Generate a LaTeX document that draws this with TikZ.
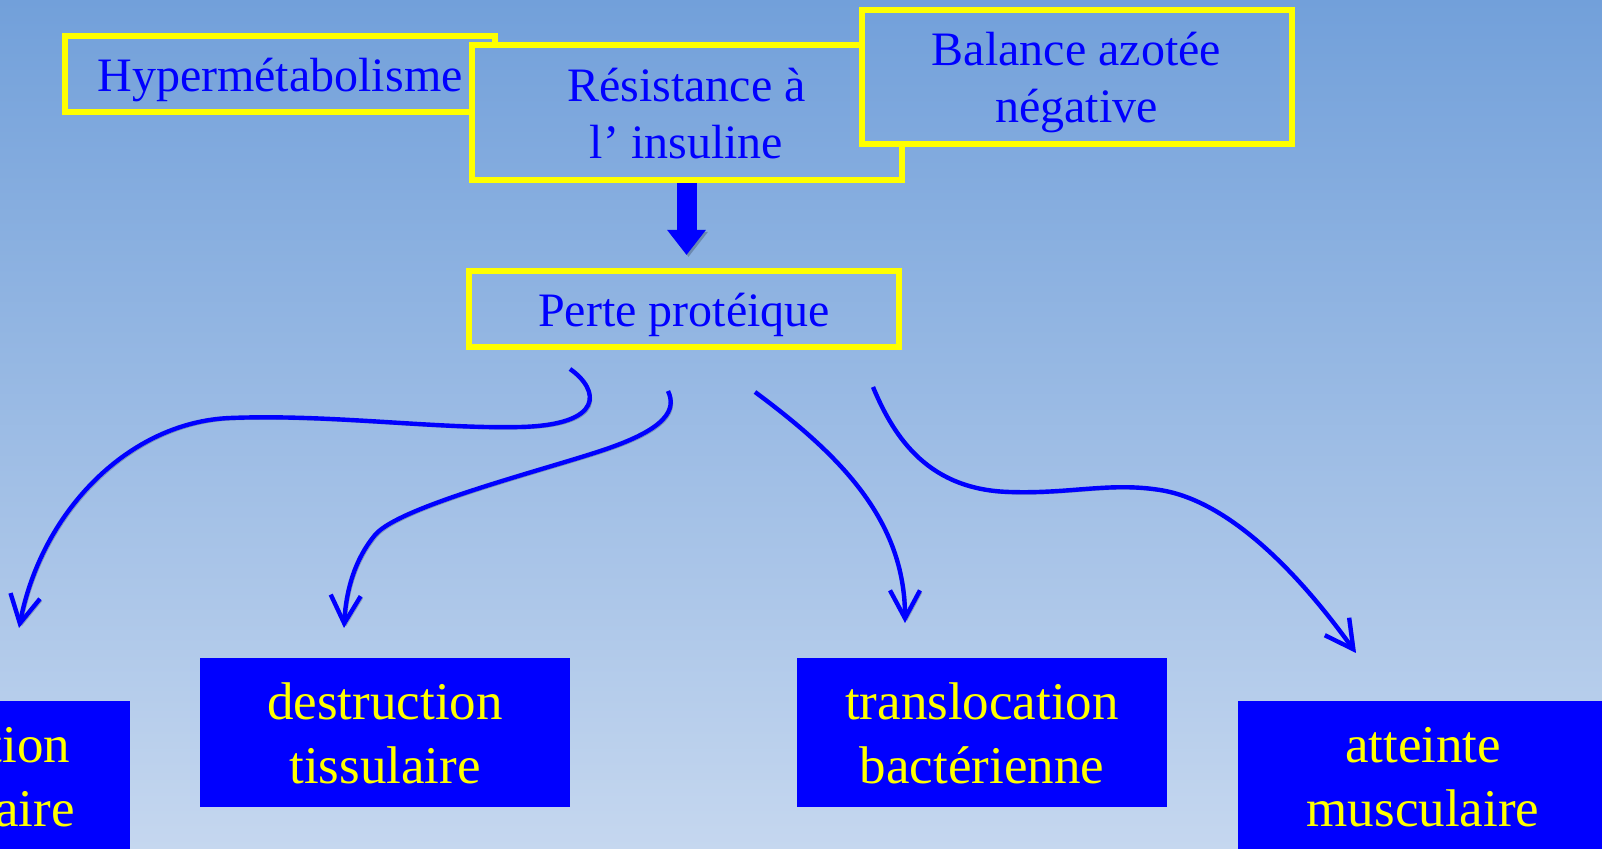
\documentclass[tikz,border=0pt]{standalone}
\usepackage{fontspec}
\setmainfont{Liberation Serif}
\usetikzlibrary{arrows.meta}
\definecolor{bgtop}{RGB}{114,160,218}
\definecolor{bgbot}{RGB}{197,215,239}
\definecolor{pureblue}{RGB}{0,0,255}
\definecolor{pureyellow}{RGB}{255,255,0}
% centred lines of text, lowered by #1 without changing the box size
\newcommand{\boxlines}[2]{\raisebox{-#1}[\height][\depth]{\begin{tabular}{@{}c@{}}#2\end{tabular}}}

\begin{document}
\begin{tikzpicture}[x=0.5pt,y=-0.5pt,
  pagefill/.style={path picture={\shade[top color=bgtop,bottom color=bgbot] (pgtl) rectangle (pgbr);}},
  topbox/.style={draw=pureyellow, line width=3pt, text=pureblue,
    font=\fontsize{24}{28.5}\selectfont, inner sep=0pt,
    minimum width=215pt},
  lowbox/.style={fill=pureblue, text=pureyellow,
    font=\fontsize{26.5}{32}\selectfont, inner sep=0pt,
    minimum width=185pt, minimum height=74.5pt},
  shadowed/.style={preaction={draw=black, opacity=0.22,
    transform canvas={xshift=1pt,yshift=-1pt}}},
  link/.style={draw=pureblue, line width=2.2pt,
    -{Straight Barb[length=14pt,width=15pt]}, shadowed},
]
% page and its gradient
\coordinate (pgtl) at (0,0);
\coordinate (pgbr) at (1602,849);
\useasboundingbox (pgtl) rectangle (pgbr);
\shade[top color=bgtop,bottom color=bgbot] (pgtl) rectangle (pgbr);

% upper boxes (later ones cover earlier ones)
\node[topbox, minimum height=38pt] (hyper) at (280,74) {\boxlines{3.2pt}{Hypermétabolisme}};
\node[topbox, minimum height=67.5pt, pagefill] (resist) at (686.5,112.5) {\boxlines{3.2pt}{Résistance à\\l’ insuline}};
\node[topbox, minimum height=67pt, pagefill] (balance) at (1076.5,77) {\boxlines{2.9pt}{Balance azotée\\négative}};
\node[topbox, minimum height=38pt] (perte) at (684,309) {\boxlines{3.2pt}{Perte protéique}};

% thick arrow down to the protein loss
\draw[pureblue, line width=10pt, -{Triangle[length=12.5pt,width=18.5pt]}, shadowed,
  shorten >=6.5pt] (resist.south) -- (resist.south |- perte.north);

% consequences
\node[lowbox] (immun) at (-55,775.5) {\boxlines{3.1pt}{dysfonction\\immunitaire}};
\node[lowbox] (destr) at (385,732.5) {\boxlines{3.1pt}{destruction\\tissulaire}};
\node[lowbox] (transl) at (982,732.5) {\boxlines{3.1pt}{translocation\\bactérienne}};
\node[lowbox] (muscle) at (1423,775.5) {\boxlines{3.1pt}{atteinte\\musculaire}};

% curved arrows
\coordinate (s1) at (570,369);  \coordinate (t1) at (19,628);
\coordinate (s2) at (668,391);  \coordinate (t2) at (344,628);
\coordinate (s3) at (755,392);  \coordinate (t3) at (905,623);
\coordinate (s4) at (873,387);  \coordinate (t4) at (1356,653);

\draw[link] (s1) .. controls (600,390) and (605,425) .. (520,427)
  .. controls (435,429) and (330,414) .. (230,418)
  .. controls (130,422) and (42,510) .. (t1);
\draw[link] (s2) .. controls (677,410) and (665,428) .. (612,447)
  .. controls (560,466) and (400,505) .. (375,535)
  .. controls (355,559) and (346,590) .. (t2);
\draw[link] (s3) .. controls (840,455) and (905,520) .. (t3);
\draw[link] (s4) .. controls (895,440) and (930,490) .. (1010,492)
  .. controls (1070,494) and (1110,482) .. (1160,490)
  .. controls (1230,501) and (1300,575) .. (t4);
\end{tikzpicture}
\end{document}
